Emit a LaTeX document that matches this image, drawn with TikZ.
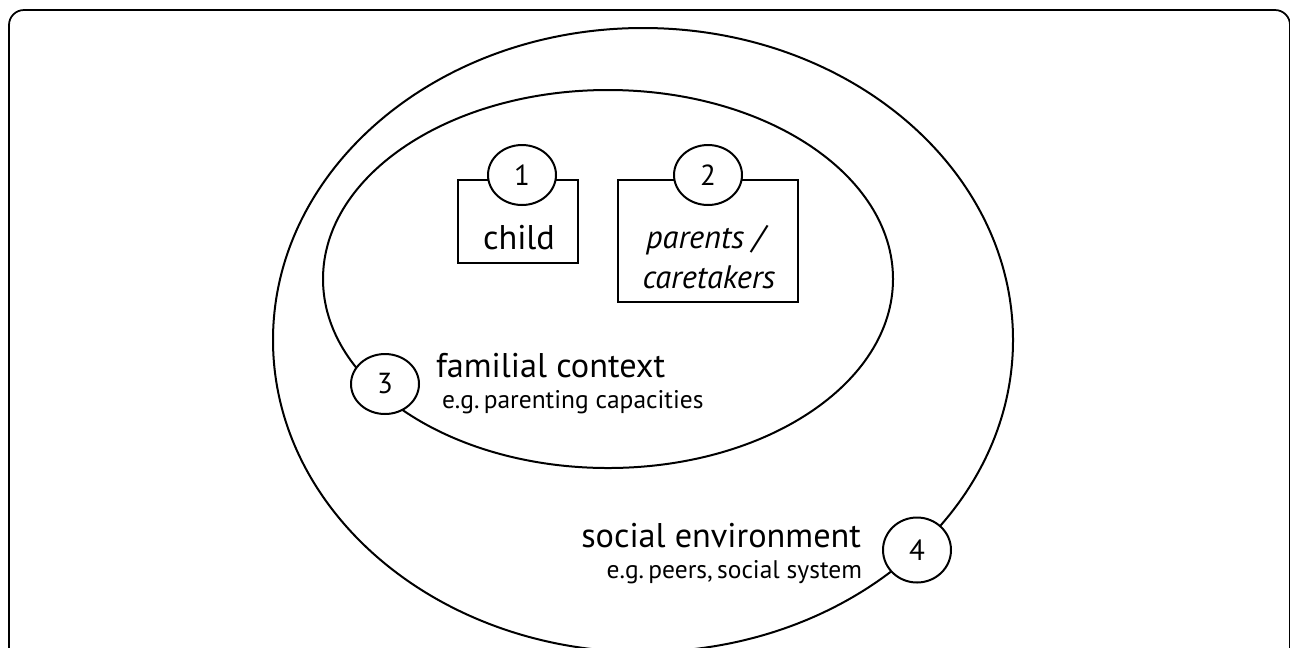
\documentclass[tikz,border=0pt]{standalone}
\usepackage{fontspec}
\setmainfont{PT Sans}
\usetikzlibrary{shapes.geometric,positioning}
\frenchspacing

\begin{document}
\begin{tikzpicture}[
            x = 0.02cm, y = -0.02cm, % one unit per pixel, y pointing down
            line width = 0.4mm, % stroke of rings and boxes
            badge/.style = {draw, fill=white, ellipse, inner sep=0pt,
                minimum width=13.6mm, minimum height=12mm,
                font=\fontsize{16.5}{18}\selectfont}, % numbered circles
            box/.style = {draw, rectangle, inner sep=0pt},
            mainlbl/.style = {inner sep=0pt, font=\fontsize{19.5}{22}\selectfont},
            itlbl/.style = {inner sep=0pt, font=\fontsize{18.5}{21}\selectfont\itshape},
            sublbl/.style = {inner sep=0pt, font=\fontsize{14.5}{17}\selectfont}
        ]

	\useasboundingbox (0,0) rectangle (1290,647);
	\clip (0,0) rectangle (1290,647);

	% frame and rings
	\draw[rounded corners=3mm, line width=0.35mm] (9,10) rectangle (1290,720);
	\draw (643,340) ellipse [x radius=370, y radius=312];
	\draw (608,279) ellipse [x radius=285, y radius=189];

	% child and parents
	\node[box, minimum width=24mm, minimum height=16.6mm] (childbox) at (518,221.5) {};
	\node[box, minimum width=36mm, minimum height=24.4mm] (parentbox) at (708,241) {};
	\node[mainlbl, anchor=base] (child) at (519,249) {child};
	\node[itlbl, anchor=base] (parents) at (705,248) {parents /};
	\node[itlbl, anchor=base] (caretakers) at (709,288) {caretakers};

	% context labels
	\node[mainlbl, anchor=base west] (familial) at (435,377) {familial context};
	\node[sublbl, anchor=base west] (familialeg) at (441,408) {e.g.\,parenting capacities};
	\node[mainlbl, anchor=base east] (social) at (862,547) {social environment};
	\node[sublbl, anchor=base east] (socialeg) at (863,578) {e.g.\,peers,\,social system};

	% numbers
	\node[badge] (b1) at (522,175) {1};
	\node[badge] (b2) at (708,175) {2};
	\node[badge] (b3) at (385,384) {3};
	\node[badge, minimum height=13mm] (b4) at (917,550) {4};

\end{tikzpicture}
\end{document}
